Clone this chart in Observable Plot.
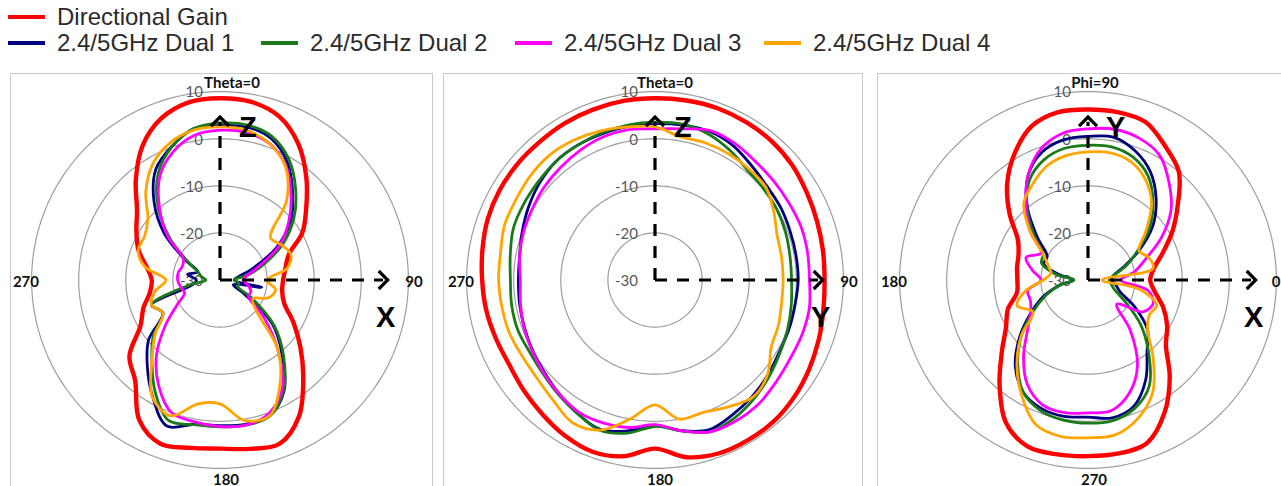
<!DOCTYPE html>
<html>
<head>
<meta charset="utf-8">
<script src="https://cdn.jsdelivr.net/npm/d3@7"></script>
<script src="https://cdn.jsdelivr.net/npm/@observablehq/plot@0.6"></script>
<style>
  html, body { margin: 0; padding: 0; background: #fff; width: 1281px; height: 486px; overflow: hidden; }
  #legend { position: absolute; left: 0; top: 0; width: 1281px; height: 60px;
            font-family: "Liberation Sans", Arimo, Arial, Helvetica, sans-serif; font-size: 24px; color: #2b2b2b; }
  .item { position: absolute; display: flex; align-items: center; white-space: nowrap; height: 28px; }
  .sw { display: inline-block; width: 37px; height: 4px; margin-right: 12px; }
  .panel { position: absolute; top: 73px; height: 420px; border: 1.5px solid #c9c9c9;
           box-sizing: border-box; overflow: hidden; background: #fff; }
  .panel svg { display: block; }
</style>
</head>
<body>
<div id="legend"></div>
<div id="charts"></div>
<script>
// ---- series and labels ----
const seriesNames = ["Directional Gain", "2.4/5GHz Dual 1", "2.4/5GHz Dual 2", "2.4/5GHz Dual 3", "2.4/5GHz Dual 4"];
const seriesColors = ["#ff0000", "#00007f", "#1a7a1a", "#ff00ff", "#ffa500"];
const seriesWidths = [4.4, 2.8, 2.8, 2.8, 2.8];

// measurement angles (degrees), one value every 10°
const angles = d3.range(0, 360, 10);

// radial grid (dB)
const ringValues = [10, 0, -10, -20];
const ringLabels = [10, 0, -10, -20, -30];
const floorDb = -30;

// XZ cut (Theta, clockwise from +Z)
const xzGain  = [8.6, 8.4, 6.9, 3.3, -1.5, -6.1, -9.8, -14.5, -15.9, -16.6, -16.6, -15.5, -12, -7.7, -2.5, 3.5, 7, 6.4, 5.8, 6.2, 7, 4.3, -2, -4.9, -10.5, -12.7, -14.9, -15.5, -14.2, -11.6, -9.5, -7, -2.2, 2.9, 6.5, 8.3];
const xzDual1 = [2.8, 3.0, 1.9, -1.3, -6, -10.4, -16.1, -22.4, -26, -27, -21, -27, -24, -15.5, -9.5, -2.8, 0.7, 1.1, 0.9, 1.1, 3.0, -1.4, -6, -10.2, -16, -14.5, -24, -25, -23, -25, -21.5, -14.5, -8.2, -2.8, 0.1, 2.6];
const xzDual2 = [3.3, 3.4, 2.4, -0.6, -5, -9.5, -14.5, -20, -24, -27, -26, -26, -22, -15, -9, -3, 0.8, 1.3, 1.2, 1.2, 1.8, -2.5, -7.5, -11.5, -16, -14.5, -23, -27, -26, -25, -22, -16, -9.5, -3.8, 0, 2.6];
const xzDual3 = [1.8, 1.8, 0.8, -2, -6.5, -11, -15.5, -21, -24, -25, -24, -23, -23, -18, -11, -3.5, 0.2, 1.3, 1.1, 0.6, 0.0, -4, -9, -14.8, -19.5, -22, -21.5, -21, -21, -21.5, -21, -15.5, -10, -4.5, -1, 1.2];
const xzDual4 = [2.5, 2.3, 0.8, -2.2, -8, -16, -15, -14, -15.5, -20, -18, -19, -22, -20, -11, -4.5, 0.7, 0.3, -3.7, -3.3, 0.7, -1.3, -7.5, -12, -16, -14.5, -16, -18.5, -13.8, -11.5, -11.5, -10, -5.5, -1.5, 1, 2.3];

// YZ cut (Theta, clockwise from +Z)
const yzGain  = [8.6, 8.7, 8.8, 8.7, 8.5, 8.0, 7.2, 6.6, 6.2, 6.0, 6.3, 7.0, 7.8, 8.6, 9.2, 9.3, 9.2, 8.2, 5.8, 8.0, 8.8, 8.2, 7.2, 6.4, 5.8, 6.0, 6.4, 6.7, 7.2, 7.8, 8.1, 8.2, 8.2, 8.4, 8.5, 8.6];
const yzDual1 = [3.2, 3.4, 3.6, 3.0, 1.8, 1.0, 0.8, 0.5, 0.4, 0.4, 0.2, 0.3, 0.5, 1.3, 2.2, 3.0, 3.8, 2.5, 0.8, 2.5, 3.8, 2.8, 1.6, 0.6, 0, -0.5, -0.8, -1.0, -0.8, 0, 1.0, 2.0, 2.8, 3.0, 3.0, 3.1];
const yzDual2 = [3.5, 3.6, 3.0, 1.8, 0.5, 0.1, -0.1, -0.5, -0.9, -1.0, -0.6, 0, 0.7, 1.7, 2.8, 3.8, 4.3, 2.5, 1.1, 3.0, 4.0, 2.8, 1.8, 1.0, 0.7, 1.0, 0.9, 0.7, 1.2, 2.0, 2.2, 2.4, 2.8, 3.0, 3.2, 3.4];
const yzDual3 = [2.1, 2.6, 3.8, 3.6, 3.0, 2.8, 2.8, 3.0, 2.9, 2.8, 3.3, 3.3, 3.2, 3.6, 4.3, 4.5, 4.3, 2.5, 0.7, 1.8, 2.3, 2.4, 1.6, 0.8, 0.1, -0.4, -1.0, -1.4, -0.8, -0.3, 0.1, 0.7, 1.2, 1.8, 2.3, 2.4];
const yzDual4 = [2.5, 0.9, 1.0, 1.0, 0.9, 0.7, -0.9, -2.4, -2.7, -2.8, -2.7, -2.1, -1.5, 1.2, 2.4, 1.1, -0.1, 0, -3.5, -0.1, 3.9, 5.0, 3.5, 2.6, 2.5, 2.9, 3.0, 3.2, 3.3, 4.0, 4.1, 4.5, 4.7, 4.3, 3.7, 3.0];

// XY cut (Phi, counter-clockwise from +X)
const xyGain  = [-16.8, -15.8, -13.1, -9.3, -5.1, 0, 2.8, 5.7, 6.2, 6.2, 6.2, 4.8, 1.1, -3.3, -8.3, -12.8, -14.3, -14.7, -15, -14.7, -11.9, -9.9, -6.1, -0.8, 4.9, 7.6, 7.6, 7.4, 7.4, 6.8, 2.5, -3, -8.4, -10.6, -13, -15.6];
const xyDual1 = [-25, -24.5, -22, -17.5, -12, -7.5, -3.5, -0.8, 0.8, 0.5, 0.2, -1.2, -4.5, -10, -16, -20, -20, -24, -27, -24, -20, -16, -11, -6, -2.5, -1, -0.6, -0.9, -0.3, -1.5, -5.5, -10.5, -13.5, -18.5, -22.8, -24];
const xyDual2 = [-25.5, -24.5, -21.5, -18, -13, -8.5, -4.5, -2.2, -1.3, -1.4, -1.6, -2.8, -5.3, -9.8, -15, -19, -19.5, -23, -27, -24, -20.5, -16.5, -11.5, -6.8, -2.5, -0.5, 0.2, 0.4, 0.3, -1, -4, -10, -15.5, -21, -24, -25];
const xyDual3 = [-23, -20, -17, -12, -7, -3.2, 0.5, 2, 2.5, 2.1, 1.6, -0.5, -4.5, -9.5, -14, -18.5, -16, -18, -20, -17, -17, -15.9, -13.2, -8.7, -4.3, -1.8, -1.4, -1.8, -1.8, -4.4, -9, -16, -22, -16.5, -15.3, -17];
const xyDual4 = [-27, -16, -16.2, -17.5, -14, -9, -5.5, -3.3, -2.6, -2.8, -3.2, -4.3, -6.5, -8.8, -14, -19, -21, -22, -20.5, -16.5, -14, -16.5, -11.5, -6.5, -1.8, 2.6, 3.7, 3.5, 3.4, 1.2, -2.5, -8.5, -13.5, -15, -14.5, -19];

// ---- legend ----
const legendItems = [
  {name: seriesNames[0], color: seriesColors[0], left: 8, top: 3},
  {name: seriesNames[1], color: seriesColors[1], left: 8, top: 29},
  {name: seriesNames[2], color: seriesColors[2], left: 261, top: 29},
  {name: seriesNames[3], color: seriesColors[3], left: 515, top: 29},
  {name: seriesNames[4], color: seriesColors[4], left: 764, top: 29}
];
const legend = d3.select("#legend");
for (const it of legendItems) {
  const d = legend.append("div").attr("class", "item").style("left", it.left + "px").style("top", it.top + "px");
  d.append("span").attr("class", "sw").style("background", it.color);
  d.append("span").text(it.name);
}

// ---- polar panels ----
const pxPerDb = 4.71;
const panels = [
  {left: 10, width: 423, centerX: 220, clockwise: true, values: [xzGain, xzDual1, xzDual2, xzDual3, xzDual4],
   top: "Theta=0", topDx: 12, right: "90", rightDx: 0, bottom: "180", bottomDx: 6, leftLbl: "270", up: "Z", across: "X"},
  {left: 443, width: 420, centerX: 655, clockwise: true, values: [yzGain, yzDual1, yzDual2, yzDual3, yzDual4],
   top: "Theta=0", topDx: 10, right: "90", rightDx: 0, bottom: "180", bottomDx: 5, leftLbl: "270", up: "Z", across: "Y"},
  {left: 877, width: 420, centerX: 1088, clockwise: false, values: [xyGain, xyDual1, xyDual2, xyDual3, xyDual4],
   top: "Phi=90", topDx: 7, right: "0", rightDx: -6, bottom: "270", bottomDx: 6, leftLbl: "180", up: "Y", across: "X"}
];

const border = 1.5, panelTop = 73, panelH = 420, centerY = 280;
const rad = v => Math.max(0, v - floorDb);

for (const p of panels) {
  const W = p.width - 2 * border, H = panelH - 2 * border;
  const cx = p.centerX - p.left - border, cy = centerY - panelTop - border;
  const toXY = p.clockwise
    ? (a, r) => [r * Math.sin(a * Math.PI / 180), r * Math.cos(a * Math.PI / 180)]
    : (a, r) => [r * Math.cos(a * Math.PI / 180), r * Math.sin(a * Math.PI / 180)];

  // grid circles
  const rings = ringValues.flatMap(v => d3.range(0, 361, 2).map(a => ({ring: v, a, r: rad(v)})));

  // one closed smooth trace per series
  const seriesMarks = seriesNames.map((name, i) => {
    const pts = p.values[i].map((v, j) => ({name, a: angles[j], r: rad(v)}));
    return Plot.line(pts, {
      x: d => toXY(d.a, d.r)[0], y: d => toXY(d.a, d.r)[1],
      stroke: seriesColors[i], strokeWidth: seriesWidths[i],
      curve: "catmull-rom-closed", strokeLinejoin: "round"
    });
  });

  const axisLen = {up: 34.6, across: 35.6};
  const chevron = {draw(ctx, size) { const s = Math.sqrt(size / Math.PI); ctx.moveTo(-s, -s); ctx.lineTo(0, 0); ctx.lineTo(-s, s); }};
  const bold = {fontWeight: "bold", fill: "#111"};

  const chart = Plot.plot({
    width: W, height: H, margin: 0,
    x: {domain: [-cx / pxPerDb, (W - cx) / pxPerDb], axis: null},
    y: {domain: [-(H - cy) / pxPerDb, cy / pxPerDb], axis: null},
    style: {background: "transparent", fontFamily: "Lato, 'Liberation Sans', sans-serif"},
    marks: [
      Plot.line(rings, {x: d => toXY(d.a, d.r)[0], y: d => toXY(d.a, d.r)[1], z: "ring", stroke: "#9e9e9e", strokeWidth: 1.2}),
      Plot.text(ringLabels, {x: 0, y: d => rad(d), text: d => String(d), textAnchor: "end", dx: -17, dy: 1,
        fontSize: 15, fill: "#595959"}),
      Plot.text([p.top], {x: 0, y: 41.8, text: d => d, dx: p.topDx, fontSize: 15, ...bold}),
      Plot.text([p.right], {x: 41.2, y: 0, text: d => d, dx: p.rightDx, dy: 2, fontSize: 15, ...bold}),
      Plot.text([p.bottom], {x: 0, y: -42.4, text: d => d, dx: p.bottomDx, fontSize: 15, ...bold}),
      Plot.text([p.leftLbl], {x: -41.2, y: 0, text: d => d, dy: 2, fontSize: 15, ...bold}),
      ...seriesMarks,
      // coordinate axes
      Plot.link([{x1: 0, y1: 0, x2: 0, y2: axisLen.up - 1}, {x1: 0, y1: 0, x2: axisLen.across - 1, y2: 0}],
        {x1: "x1", y1: "y1", x2: "x2", y2: "y2", stroke: "#000", strokeWidth: 3.2, strokeDasharray: "12,10"}),
      Plot.dot([{x: 0, y: axisLen.up, rot: -90}, {x: axisLen.across, y: 0, rot: 0}],
        {x: "x", y: "y", rotate: "rot", symbol: chevron, r: 9, fill: "none", stroke: "#000", strokeWidth: 3.2}),
      Plot.text([p.up], {x: 5.9, y: 32.4, text: d => d, fontSize: 29, fontWeight: "bold", fill: "#000",
        fontFamily: "'Liberation Sans', Arial, sans-serif"}),
      Plot.text([p.across], {x: 35.2, y: -8.0, text: d => d, fontSize: 29, fontWeight: "bold", fill: "#000",
        fontFamily: "'Liberation Sans', Arial, sans-serif"})
    ]
  });

  const div = d3.select("#charts").append("div").attr("class", "panel")
    .style("left", p.left + "px").style("width", p.width + "px");
  div.node().appendChild(chart);
}
</script>
</body>
</html>
